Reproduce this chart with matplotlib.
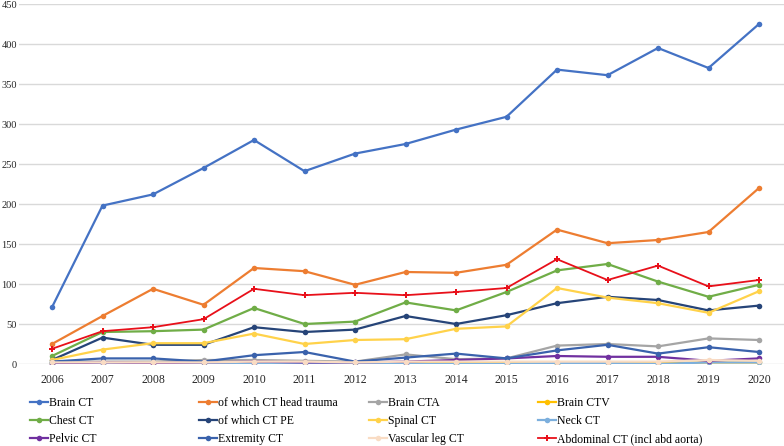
import matplotlib
matplotlib.use("Agg")
from matplotlib import pyplot as plt

years = list(range(2006, 2021))

series_names = [
    "Brain CT", "of which CT head trauma", "Brain CTA", "Brain CTV",
    "Chest CT", "of which CT PE", "Spinal CT", "Neck CT",
    "Pelvic CT", "Extremity CT", "Vascular leg CT", "Abdominal CT (incl abd aorta)",
]

brain_ct = [71, 198, 212, 245, 280, 241, 263, 275, 293, 309, 368, 361, 395, 370, 425]
head_trauma = [25, 60, 94, 74, 120, 116, 99, 115, 114, 124, 168, 151, 155, 165, 220]
brain_cta = [3, 3, 3, 5, 5, 4, 3, 12, 6, 7, 23, 25, 22, 32, 30]
brain_ctv = [1, 1, 1, 1, 1, 1, 1, 1, 1, 1, 0, 1, 1, 2, 2]
chest_ct = [10, 40, 41, 43, 70, 50, 53, 77, 67, 90, 117, 125, 103, 84, 99]
ct_pe = [5, 33, 24, 24, 46, 40, 43, 60, 50, 61, 76, 84, 80, 67, 73]
spinal_ct = [5, 18, 26, 26, 38, 25, 30, 31, 44, 47, 95, 83, 76, 64, 91]
neck_ct = [1, 0, 0, 1, 0, 1, 1, 0, 0, 0, 1, 1, 0, 2, 2]
pelvic_ct = [0, 2, 1, 2, 3, 2, 2, 3, 5, 7, 10, 9, 9, 4, 7]
extremity_ct = [3, 7, 7, 3, 11, 15, 3, 8, 13, 7, 17, 24, 13, 21, 15]
vascular_leg = [2, 2, 2, 2, 3, 3, 2, 3, 3, 3, 3, 3, 3, 5, 4]
abdominal_ct = [19, 41, 46, 56, 94, 86, 89, 86, 90, 95, 131, 105, 123, 97, 105]

series_values = [
    brain_ct, head_trauma, brain_cta, brain_ctv,
    chest_ct, ct_pe, spinal_ct, neck_ct,
    pelvic_ct, extremity_ct, vascular_leg, abdominal_ct,
]

colors = [
    "#4472C4", "#ED7D31", "#A5A5A5", "#FFC000",
    "#70AD47", "#264478", "#FFD24A", "#7CAFDD",
    "#7030A0", "#3A62AC", "#F9DCC4", "#E8101A",
]
markers = ["o"] * 11 + ["P"]

y_ticks = [0, 50, 100, 150, 200, 250, 300, 350, 400, 450]

plt.rcParams["font.family"] = ["Liberation Serif", "DejaVu Serif"]

fig = plt.figure(figsize=(7.84, 4.46), dpi=100)
ax = fig.add_axes([19 / 784, (446 - 364) / 446, 1 - 19 / 784, 360 / 446])

lines = []
for name, vals, col, mk in zip(series_names, series_values, colors, markers):
    if mk == "P":
        ln, = ax.plot(years, vals, color=col, lw=1.3, marker=mk, markersize=4,
                      markeredgewidth=0, label=name)
    else:
        ln, = ax.plot(years, vals, color=col, lw=1.6, marker=mk, markersize=4,
                      markeredgewidth=0, label=name)
    lines.append(ln)

ax.set_xlim(2006 - 33 / 50.5, 2020 + 25 / 50.5)
ax.set_ylim(0, 450)
ax.set_xticks(years)
ax.set_yticks(y_ticks)
ax.tick_params(axis="both", length=0, colors="#262626")
ax.tick_params(axis="x", labelsize=8.5, pad=7)
ax.tick_params(axis="y", labelsize=7.5, pad=1.5)
ax.grid(axis="y", color="#D9D9D9", lw=1)
ax.set_axisbelow(True)
for sp in ax.spines.values():
    sp.set_visible(False)

# legend: four separate columns, three rows each
col_x = [30, 199, 369, 538]
for j in range(4):
    hs = lines[j::4]
    fig.legend(hs, [h.get_label() for h in hs], loc="upper left",
               bbox_to_anchor=(col_x[j] / 784, 1 - 397 / 446),
               frameon=False, fontsize=8.5, handlelength=1.5,
               handletextpad=0.15, labelspacing=0.5, borderpad=0,
               borderaxespad=0)

fig.savefig("out.png", dpi=100)
